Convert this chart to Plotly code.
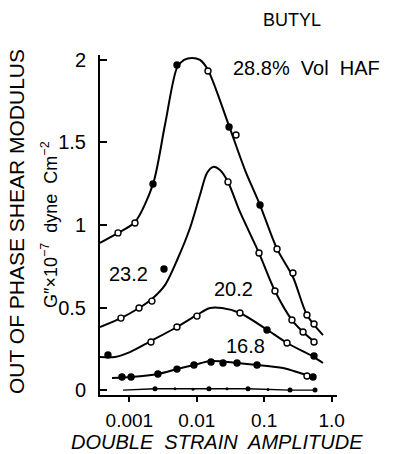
import plotly.graph_objects as go

# ---------------- data ----------------
# 28.8 % vol HAF
x288_pts = [6.78e-4, 1.21e-3, 2.24e-3, 5.08e-3, 0.01466, 0.0301, 0.0382, 0.0867, 0.155, 0.267, 0.431, 0.548]
y288_pts = [0.952, 1.012, 1.248, 1.970, 1.933, 1.594, 1.545, 1.121, 0.855, 0.709, 0.455, 0.400]
f288_pts = [0, 0, 1, 1, 0, 1, 0, 1, 0, 0, 0, 0]
x288_curve = [3.66e-4, 6.78e-4, 1.21e-3, 2.24e-3, 3.37e-3, 5.08e-3, 6.46e-3, 8.49e-3, 0.01115, 0.01466,
              0.0301, 0.0519, 0.0867, 0.155, 0.267, 0.431, 0.745]
y288_curve = [0.891, 0.952, 1.018, 1.248, 1.606, 1.952, 2.000, 2.012, 2.000, 1.939,
              1.600, 1.333, 1.121, 0.855, 0.685, 0.455, 0.333]

# 23.2
x232_pts = [7.50e-4, 1.39e-3, 2.16e-3, 3.26e-3, 0.02904, 0.0838, 0.1445, 0.258, 0.377, 0.548]
y232_pts = [0.436, 0.497, 0.539, 0.733, 1.261, 0.830, 0.600, 0.424, 0.352, 0.291]
f232_pts = [0, 0, 0, 1, 0, 0, 0, 0, 0, 0]
x232_curve = [3.66e-4, 7.50e-4, 1.39e-3, 2.16e-3, 3.37e-3, 5.26e-3, 7.93e-3, 0.01115, 0.01416, 0.01738,
              0.02208, 0.02904, 0.04375, 0.0838, 0.1445, 0.258, 0.377, 0.607]
y232_curve = [0.382, 0.436, 0.497, 0.552, 0.636, 0.800, 0.982, 1.182, 1.315, 1.352,
              1.333, 1.261, 1.079, 0.830, 0.600, 0.424, 0.352, 0.279]

# 20.2
x202_pts = [4.81e-4, 2.09e-3, 5.08e-3, 0.01007, 0.04375, 0.110, 0.218, 0.548]
y202_pts = [0.212, 0.291, 0.382, 0.448, 0.467, 0.364, 0.285, 0.206]
f202_pts = [1, 0, 0, 0, 0, 1, 0, 1]
x202_curve = [3.66e-4, 6.11e-4, 1.02e-3, 2.09e-3, 5.08e-3, 0.01007, 0.01570, 0.02366, 0.04375, 0.1064,
              0.218, 0.548, 0.745]
y202_curve = [0.200, 0.200, 0.230, 0.297, 0.382, 0.455, 0.497, 0.497, 0.467, 0.370,
              0.285, 0.200, 0.164]

# 16.8
x168_pts = [7.76e-4, 1.06e-3, 2.65e-3, 5.08e-3, 9.08e-3, 0.01626, 0.02449, 0.03953, 0.0782, 0.431, 0.530]
y168_pts = [0.079, 0.079, 0.097, 0.127, 0.152, 0.170, 0.164, 0.164, 0.152, 0.085, 0.079]
f168_pts = [1, 1, 1, 1, 1, 1, 1, 1, 1, 0, 1]
x168_curve = [5.52e-4, 1.06e-3, 2.65e-3, 5.08e-3, 9.08e-3, 0.01626, 0.03953, 0.0782, 0.190, 0.340, 0.530]
y168_curve = [0.073, 0.079, 0.097, 0.127, 0.152, 0.176, 0.164, 0.152, 0.133, 0.103, 0.079]

# lowest series (near zero)
x0_pts = [2.40e-3, 0.01517, 0.0575, 0.2415, 0.568]
y0_pts = [0.008, 0.008, 0.008, 0.0, 0.0]
x0_small = [4.75e-3, 8.79e-3, 0.02805, 0.1138]
y0_small = [0.008, 0.005, 0.008, 0.003]
x0_curve = [8.04e-4, 2.40e-3, 0.01517, 0.0575, 0.2415, 0.607]
y0_curve = [0.0, 0.008, 0.008, 0.008, 0.0, 0.0]

x_tickvals = [0.001, 0.01, 0.1, 1.0]
x_ticktext = ["0.001", "0.01", "0.1", "1.0"]
y_tickvals = [0, 0.5, 1, 1.5, 2]
y_ticktext = ["0", "0.5", "1", "1.5", "2"]

series_labels = ["28.8%  Vol  HAF", "23.2", "20.2", "16.8"]

# ---------------- figure ----------------
FONT = "Liberation Sans, Arial, sans-serif"
fig = go.Figure()

def add_series(xc, yc, xp, yp, fp, msize=6):
    fig.add_trace(go.Scatter(x=xc, y=yc, mode="lines", line=dict(color="black", width=2, shape="spline", smoothing=0.8),
                             hoverinfo="skip", showlegend=False))
    fig.add_trace(go.Scatter(x=xp, y=yp, mode="markers",
                             marker=dict(size=msize, color=["black" if f else "white" for f in fp],
                                         line=dict(color="black", width=1.4)),
                             showlegend=False))

add_series(x288_curve, y288_curve, x288_pts, y288_pts, f288_pts)
add_series(x232_curve, y232_curve, x232_pts, y232_pts, f232_pts)
add_series(x202_curve, y202_curve, x202_pts, y202_pts, f202_pts)
add_series(x168_curve, y168_curve, x168_pts, y168_pts, f168_pts)

fig.add_trace(go.Scatter(x=x0_curve, y=y0_curve, mode="lines", line=dict(color="black", width=1.3),
                         hoverinfo="skip", showlegend=False))
fig.add_trace(go.Scatter(x=x0_pts, y=y0_pts, mode="markers", marker=dict(size=5, color="black"), showlegend=False))
fig.add_trace(go.Scatter(x=x0_small, y=y0_small, mode="markers", marker=dict(size=3, color="black"), showlegend=False))

fig.update_layout(
    width=396, height=454,
    margin=dict(l=100, r=59, t=55, b=59),
    paper_bgcolor="white", plot_bgcolor="white",
    font=dict(family=FONT, size=20, color="black"),
    showlegend=False,
)
fig.update_xaxes(type="log", range=[-3.436, 0.080], tickvals=x_tickvals, ticktext=x_ticktext,
                 showgrid=False, zeroline=False, showline=True, linecolor="black", linewidth=2,
                 ticks="outside", ticklen=5, tickwidth=2, tickcolor="black",
                 tickfont=dict(family=FONT, size=19), ticklabelstandoff=2)
fig.update_yaxes(range=[-0.03, 2.03], tickvals=y_tickvals, ticktext=y_ticktext,
                 showgrid=False, zeroline=False, showline=True, linecolor="black", linewidth=2,
                 ticks="inside", ticklen=7, tickwidth=2, tickcolor="black",
                 tickfont=dict(family=FONT, size=20), ticklabelstandoff=8)

ann = [
    dict(text="BUTYL", x=0.810, y=1.103, size=18),
    dict(text=series_labels[0], x=0.873, y=0.962, size=20),
    dict(text=series_labels[1], x=0.122, y=0.356, size=20),
    dict(text=series_labels[2], x=0.565, y=0.312, size=20),
    dict(text=series_labels[3], x=0.616, y=0.144, size=20),
]
for a in ann:
    fig.add_annotation(text=a["text"], x=a["x"], y=a["y"], xref="paper", yref="paper",
                       xanchor="center", yanchor="middle", showarrow=False,
                       font=dict(family=FONT, size=a["size"], color="black"))

fig.add_annotation(text="OUT OF PHASE SHEAR MODULUS", x=-0.350, y=0.509, xref="paper", yref="paper",
                   textangle=-90, xanchor="center", yanchor="middle", showarrow=False,
                   font=dict(family=FONT, size=21, color="black"))
fig.add_annotation(text="G″×10<sup>−7</sup>  dyne  Cm<sup>−2</sup>", x=-0.211, y=0.503, xref="paper", yref="paper",
                   textangle=-90, xanchor="center", yanchor="middle", showarrow=False,
                   font=dict(family=FONT, size=18, color="black"))
fig.add_annotation(text="<i>DOUBLE  STRAIN  AMPLITUDE</i>", x=0.494, y=-0.139, xref="paper", yref="paper",
                   xanchor="center", yanchor="middle", showarrow=False,
                   font=dict(family=FONT, size=20, color="black"))

fig.write_html("out.html")
